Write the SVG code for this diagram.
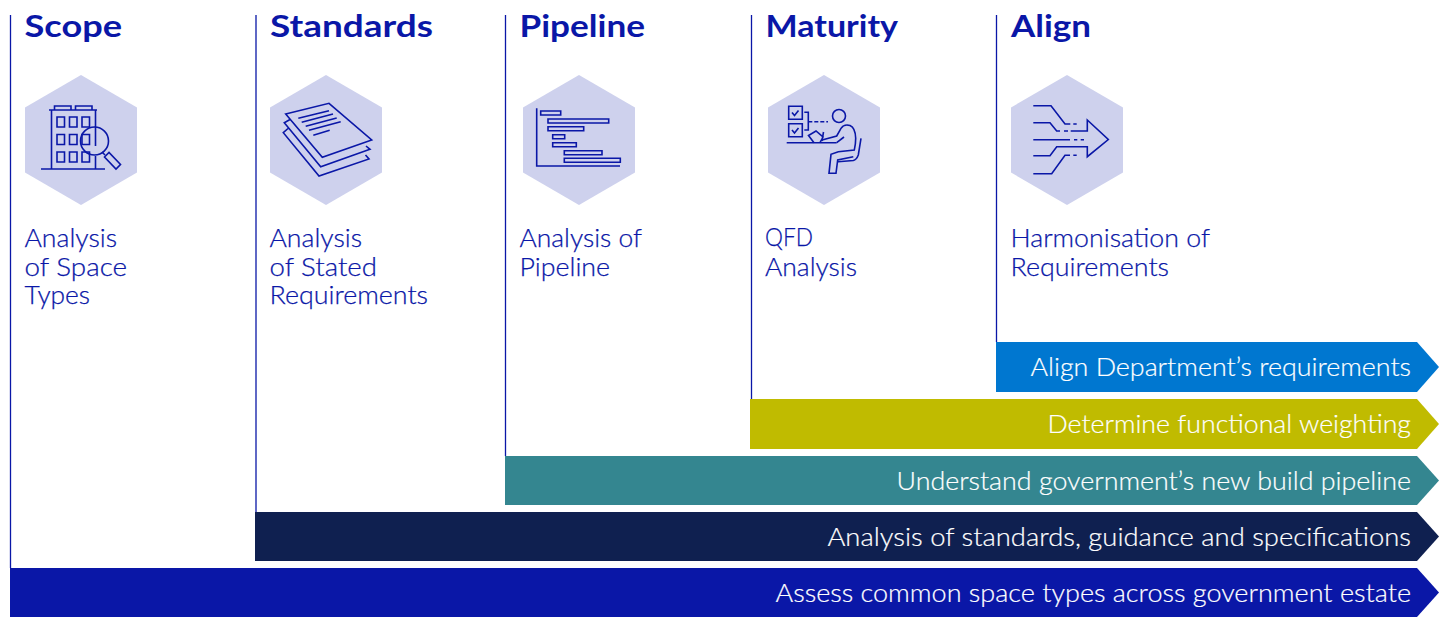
<svg xmlns="http://www.w3.org/2000/svg" width="1446" height="617" viewBox="0 0 1446 617">
<style>
text{font-family:"Lato","Liberation Sans",sans-serif}
.h{font-size:31px;font-weight:700;fill:#0a17a7}
.b{font-size:25.500px;font-weight:300;fill:#0a17a7;stroke:#0a17a7;stroke-width:.25}
.t{font-size:25.500px;font-weight:300;fill:#fff;stroke:#fff;stroke-width:.2}
.r{stroke:#0a17a7;stroke-width:1.3;fill:none}
.i{fill:none;stroke:#0a17a7;stroke-width:1.6;stroke-linejoin:miter}
.hex{fill:#ced1ed}
</style>
<defs><polygon id="hx" class="hex" points="0,-65 56,-32.500 56,32.500 0,65 -56,32.500 -56,-32.500"/></defs>
<g id="connectors">
<path class="r" d="M10.500 15V568M256 15V512M505.500 15V456M751.500 15V399M996.500 15V342"/>
</g>
<g id="bar-align"><polygon fill="#0077d0" points="996,342 1417,342 1439,367 1417,392 996,392"/><text class="t" x="1030.500" y="376" textLength="380.500" lengthAdjust="spacingAndGlyphs">Align Department’s requirements</text></g>
<g id="bar-maturity"><polygon fill="#c0bb00" points="750,399 1417,399 1439,424 1417,449 750,449"/><text class="t" x="1047.500" y="433" textLength="363.500" lengthAdjust="spacingAndGlyphs">Determine functional weighting</text></g>
<g id="bar-pipeline"><polygon fill="#348690" points="505,456 1417,456 1439,480.500 1417,505 505,505"/><text class="t" x="896.500" y="490" textLength="514.500" lengthAdjust="spacingAndGlyphs">Understand government’s new build pipeline</text></g>
<g id="bar-standards"><polygon fill="#0f2050" points="255,512 1417,512 1439,536.500 1417,561 255,561"/><text class="t" x="827.500" y="546" textLength="583.500" lengthAdjust="spacingAndGlyphs">Analysis of standards, guidance and specifications</text></g>
<g id="bar-scope"><polygon fill="#0a17a7" points="10,568 1417,568 1439,592.500 1417,617 10,617"/><text class="t" x="775.500" y="602" textLength="635.500" lengthAdjust="spacingAndGlyphs">Assess common space types across government estate</text></g>
<g id="scope">
<text class="h" x="24.500" y="37" textLength="97.500" lengthAdjust="spacingAndGlyphs">Scope</text>
<use href="#hx" x="81" y="140"/>
<path class="i" d="M41 169H105M49 110H97M51.500 110V169M95.500 110V146M95.500 156V169M54.500 110V106H71V110M75.500 110V106H92V110"/>
<path class="i" d="M57 117h7.500v10H57zM69.500 117H77v10h-7.500zM82 117h7.500v10H82zM57 134.500h7.500v10H57zM69.500 134.500H77v10h-7.500zM82 134.500h7.500v10H82zM57 152h7.500v10H57zM69.500 152H77v10h-7.500zM82 152h7.500v10H82z"/>
<circle class="i" cx="94.500" cy="141" r="14"/>
<path class="i" d="M102 152L105 155M104.500 157L109 152.500L120.500 164.500L116 169Z"/>
<text class="b" x="24.500" y="247" textLength="92.500" lengthAdjust="spacingAndGlyphs">Analysis</text>
<text class="b" x="24.500" y="275.500" textLength="102.500" lengthAdjust="spacingAndGlyphs">of Space</text>
<text class="b" x="24.500" y="304" textLength="65.500" lengthAdjust="spacingAndGlyphs">Types</text>
</g>
<g id="standards">
<text class="h" x="270" y="37" textLength="163" lengthAdjust="spacingAndGlyphs">Standards</text>
<use href="#hx" x="326" y="140"/>
<path class="i" d="M285.700 114L329 103.300L371.700 140L322.300 157.300Z"/>
<path class="i" d="M290 119.500L284.300 122.700L320.700 166.700L370 149.300L366 146M288 128.500L283.300 132.700L319 176L369 159L365.500 155"/>
<path class="i" d="M298.300 118.300L329 110.700M301.700 122.300L333 114M305.700 126.300L336.700 118M309 130.300L340.700 121.700M313.300 135.300L329.700 130.300"/>
<text class="b" x="269.500" y="247" textLength="92.500" lengthAdjust="spacingAndGlyphs">Analysis</text>
<text class="b" x="269.500" y="275.500" textLength="107.500" lengthAdjust="spacingAndGlyphs">of Stated</text>
<text class="b" x="269.500" y="304" textLength="158.500" lengthAdjust="spacingAndGlyphs">Requirements</text>
</g>
<g id="pipeline">
<text class="h" x="519.500" y="37" textLength="125.500" lengthAdjust="spacingAndGlyphs">Pipeline</text>
<use href="#hx" x="579" y="140"/>
<path class="i" d="M536.700 108.300V166H620"/>
<path class="i" d="M540.700 111h20v4h-20zM548 119h60.700v4H548zM548 126.700h35.700v4H548zM552.700 134.700h12v4h-12zM552.700 142.700h23.600v4h-23.600zM564.300 150.700H602v4h-37.700zM564.300 158.300h56v4h-56z"/>
<text class="b" x="519.500" y="247" textLength="122.500" lengthAdjust="spacingAndGlyphs">Analysis of</text>
<text class="b" x="519.500" y="275.500" textLength="90.500" lengthAdjust="spacingAndGlyphs">Pipeline</text>
</g>
<g id="maturity">
<text class="h" x="765.500" y="37" textLength="132.500" lengthAdjust="spacingAndGlyphs">Maturity</text>
<use href="#hx" x="824" y="140"/>
<path class="i" d="M788.700 106.300h13.600v13h-13.600zM788.700 123.700h13.600v13h-13.600zM792 112.500l2.500 3 4-5M792 130l2.500 3 4-5M804.300 112.300H808.300V130H804.300M786.700 142.700H836.700"/>
<path class="i" stroke-dasharray="4 2" d="M808.300 121.700H828"/>
<circle class="i" cx="839" cy="116" r="6.500"/>
<path class="i" d="M814 142.700L808.500 135.500L816 131L823 137L820 142.700M822 141L823.500 132"/>
<path class="i" d="M822 140L836.700 136L841 128.300C843 125 847 124.500 850 125.500C853.500 127 855.500 131 855.700 138.300C855.700 143 855 147 854.300 150L838.300 151.700L831 154.300L829 173.300H836L837.700 160L853.300 156.700M836.700 142.700L844 137"/>
<path class="i" d="M861 138.300L858.300 155C857 158.500 855.500 160 853.300 160.500L838 161.700"/>
<text class="b" x="765" y="246" textLength="48" lengthAdjust="spacingAndGlyphs">QFD</text>
<text class="b" x="765" y="275.500" textLength="92" lengthAdjust="spacingAndGlyphs">Analysis</text>
</g>
<g id="align">
<text class="h" x="1011" y="37" textLength="80" lengthAdjust="spacingAndGlyphs">Align</text>
<use href="#hx" x="1067" y="140"/>
<path class="i" d="M1033.300 105.700H1051L1065 124H1070.300M1073.300 124H1076.700M1033.300 122.700H1050L1056.700 131H1060M1064 131H1068M1070.700 131H1087.300V120L1108.300 139.500L1087.300 156.700V146.700H1056.700L1050 155.700H1033.300M1033.300 173.700H1051.700L1065 155.300H1070M1073.300 155.300H1076.700"/>
<path class="i" stroke-width="1.800" d="M1033.300 139.700H1070M1074 139.700H1077.300M1080.700 139.700H1084"/>
<text class="b" x="1010.500" y="247" textLength="199.500" lengthAdjust="spacingAndGlyphs">Harmonisation of</text>
<text class="b" x="1010.500" y="275.500" textLength="158.500" lengthAdjust="spacingAndGlyphs">Requirements</text>
</g>
</svg>
